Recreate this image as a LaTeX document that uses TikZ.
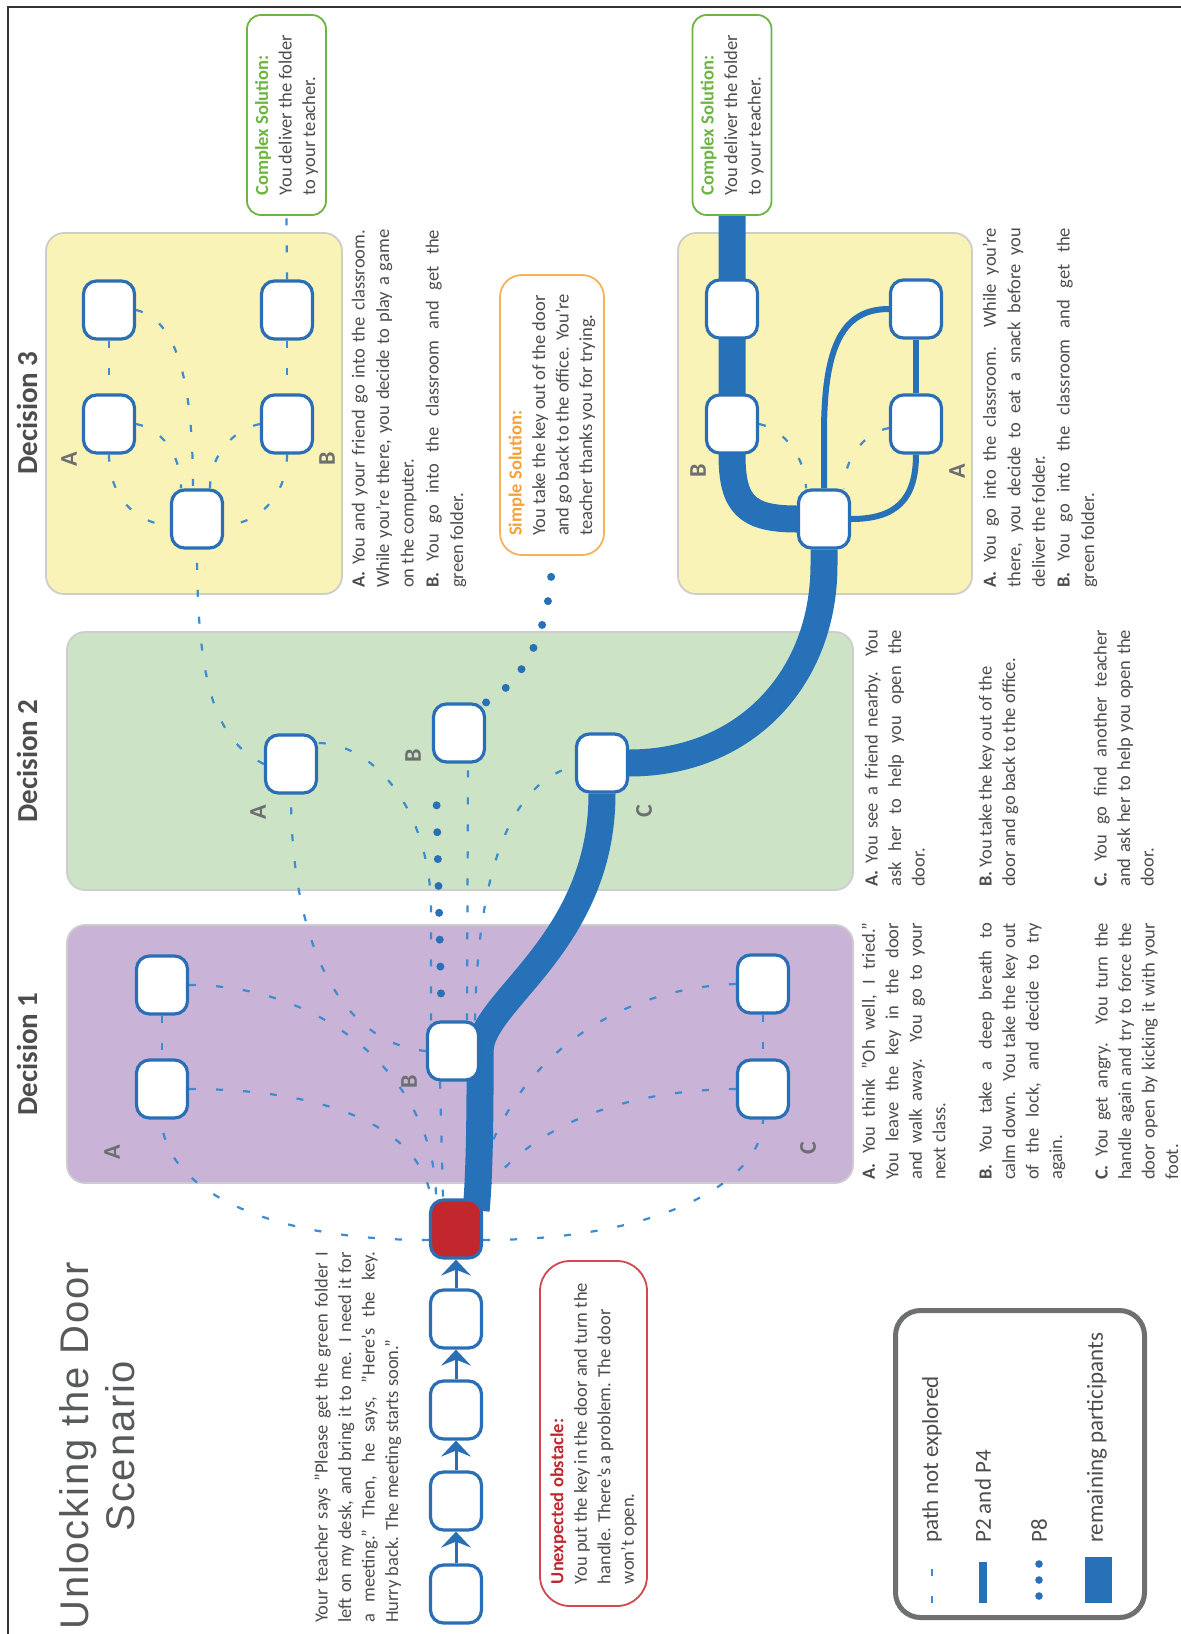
\documentclass[tikz,border=0pt]{standalone}
\usepackage{fontspec}
\setmainfont{Carlito}
\newfontfamily\titlefont{Liberation Sans}[LetterSpace=4.5]
\usetikzlibrary{calc,arrows.meta}
\definecolor{nodeblue}{HTML}{2A6EB5}
\definecolor{bandblue}{HTML}{2771B8}
\definecolor{dashblue}{HTML}{3D8BD0}
\definecolor{purp}{HTML}{C9B3D7}
\definecolor{grn}{HTML}{CCE4C5}
\definecolor{yel}{HTML}{FAF3B8}
\definecolor{panelborder}{HTML}{CDCDCD}
\definecolor{redfill}{HTML}{C1272D}
\definecolor{textgray}{HTML}{4D4D4D}
\definecolor{labelgray}{HTML}{6D6E71}
\definecolor{cgreen}{HTML}{6DB443}
\definecolor{sorange}{HTML}{F6B25A}
\definecolor{sorangetxt}{HTML}{F3A13A}
\definecolor{obred}{HTML}{D4474F}
\definecolor{obredtxt}{HTML}{C1272D}
\definecolor{legendgray}{HTML}{6D6F71}
\definecolor{titlegray}{HTML}{58595B}
\newcommand\JL[2]{\makebox[#1pt][s]{#2}}
\pgfdeclarelayer{panels}
\pgfdeclarelayer{lines}
\pgfsetlayers{panels,lines,main}
\begin{document}
\begin{tikzpicture}[x=1pt,y=-1pt,
  choice/.style={draw=nodeblue, line width=3.2pt, fill=white, rounded corners=13pt, minimum width=51pt, minimum height=58pt, inner sep=0pt},
  txt/.style={rotate=90, anchor=north west, align=left, inner sep=0pt, text=textgray, font=\fontsize{18.5}{23.5}\selectfont},
  txtw/.style={txt, font=\fontsize{18.5}{24.5}\selectfont},
  lbl/.style={rotate=90, text=labelgray, font=\fontsize{24}{24}\selectfont\bfseries, inner sep=0pt},
  dec/.style={rotate=90, text=textgray, font=\fontsize{29}{29}\selectfont\bfseries, inner sep=0pt},
  panel/.style={draw=panelborder, line width=1.8pt, rounded corners=18pt},
  dsh/.style={draw=dashblue, line width=2.2pt, dash pattern=on 7pt off 20pt},
  band/.style={draw=bandblue, line width=27pt, line join=round},
  ptf/.style={draw=bandblue, line width=6pt},
  dots/.style={draw=bandblue, line width=8pt, line cap=round},
  chainarrow/.style={draw=nodeblue, line width=3pt, -{Stealth[length=16pt,width=30pt,inset=6pt]}},
  sol/.style={rotate=90, line width=1.8pt, fill=white, align=left, inner sep=0pt, text=textgray, font=\fontsize{18.5}{23.5}\selectfont},
  legtxt/.style={rotate=90, anchor=west, inner sep=0pt, text=textgray, font=\fontsize{23}{23}\selectfont},
]
\useasboundingbox (0,0) rectangle (1181,1634);

% frame
\draw[line width=2pt, draw=black!80] (8,1634) -- (8,6.5) -- (1181,6.5);

% panels
\begin{pgfonlayer}{panels}
\draw[panel, fill=purp] (67,925) rectangle (853,1183);
\draw[panel, fill=grn] (67,632) rectangle (853,890);
\draw[panel, fill=yel] (46,233) rectangle (342,594);
\draw[panel, fill=yel] (678,233) rectangle (972,594);
\end{pgfonlayer}

% title and decisions
\node[rotate=90, align=center, text=titlegray, font=\titlefont\fontsize{40}{46}\selectfont, inner sep=0pt] (title) at (97,1446) {Unlocking the Door\\Scenario};
\node[dec] (dl1) at (27,1054) {Decision 1};
\node[dec] (dl2) at (27,761) {Decision 2};
\node[dec] (dl3) at (27,413) {Decision 3};

% chain
\node[choice] (c1) at (456,1594) {};
\node[choice] (c2) at (456,1501) {};
\node[choice] (c3) at (456,1410) {};
\node[choice] (c4) at (456,1319) {};
\node[choice, fill=redfill] (red) at (456,1229) {};
\draw[chainarrow] (c1) -- (c2);
\draw[chainarrow] (c2) -- (c3);
\draw[chainarrow] (c3) -- (c4);
\draw[chainarrow] (c4) -- (red);

% decision 1
\node[choice] (d1a1) at (162,985) {};
\node[choice] (d1a2) at (162,1089) {};
\node[choice] (d1b) at (453,1051) {};
\node[choice] (d1c1) at (763,984) {};
\node[choice] (d1c2) at (763,1089) {};
\node[lbl] (l1a) at (112,1152) {A};
\node[lbl] (l1b) at (409,1082) {B};
\node[lbl] (l1c) at (808,1148) {C};

% decision 2
\node[choice] (d2a) at (291,764) {};
\node[choice] (d2b) at (459,733) {};
\node[choice] (d2c) at (602,763) {};
\node[lbl] (l2a) at (258,812) {A};
\node[lbl] (l2b) at (413,756) {B};
\node[lbl] (l2c) at (644,811) {C};

% decision 3 top
\node[choice] (t3a1) at (109,310) {};
\node[choice] (t3a2) at (109,424) {};
\node[choice] (t3b1) at (287,310) {};
\node[choice] (t3b2) at (287,424) {};
\node[choice] (t3c) at (197,519) {};
\node[lbl] (l3a) at (69,459) {A};
\node[lbl] (l3b) at (327,459) {B};

% decision 3 bottom
\node[choice] (b3b1) at (732,309) {};
\node[choice] (b3b2) at (732,424) {};
\node[choice] (b3a1) at (916,309) {};
\node[choice] (b3a2) at (916,424) {};
\node[choice] (b3c) at (824,519) {};
\node[lbl] (l4b) at (698,471) {B};
\node[lbl] (l4a) at (957,471) {A};

% solution boxes
\node[sol, draw=cgreen, rounded corners=14pt, minimum width=200pt, minimum height=79pt] (cx1) at (286.5,115)
  {{\color{cgreen}\bfseries Complex Solution:}\\You deliver the folder\\to your teacher.};
\node[sol, draw=cgreen, rounded corners=14pt, minimum width=200pt, minimum height=79pt] (cx2) at (732,115)
  {{\color{cgreen}\bfseries Complex Solution:}\\You deliver the folder\\to your teacher.};
\node[sol, draw=sorange, rounded corners=22pt, minimum width=280pt, minimum height=104pt] (simp) at (552,415)
  {{\color{sorangetxt}\bfseries Simple Solution:}\\You take the key out of the door\\and go back to the office. You're\\teacher thanks you for trying.};
\node[sol, draw=obred, rounded corners=30pt, minimum width=345pt, minimum height=107pt] (obst) at (593.5,1433.5)
  {{\color{obredtxt}\bfseries Unexpected obstacle:}\\You put the key in the door and turn the\\handle. There's a problem. The door\\won't open.};

% texts
\node[txt] (teacher) at (314.5,1623) {\JL{371}{Your teacher says "Please get the green folder I}\\\JL{371}{left on my desk, and bring it to me. I need it for}\\\JL{371}{a meeting." Then, he says, "Here's the key.}\\Hurry back. The meeting starts soon."};

\node[txt] (t1a) at (861.5,1180) {\JL{257}{\textbf{A.} You think "Oh well, I tried."}\\\JL{257}{You leave the key in the door}\\\JL{257}{and walk away. You go to your}\\next class.};
\node[txt] (t1b) at (978.5,1180) {\JL{257}{\textbf{B.} You take a deep breath to}\\\JL{257}{calm down. You take the key out}\\\JL{257}{of the lock, and decide to try}\\again.};
\node[txt] (t1c) at (1094.5,1180) {\JL{257}{\textbf{C.} You get angry. You turn the}\\\JL{257}{handle again and try to force the}\\\JL{257}{door open by kicking it with your}\\foot.};

\node[txt] (t2a) at (864.5,887) {\JL{257}{\textbf{A.} You see a friend nearby. You}\\\JL{257}{ask her to help you open the}\\door.};
\node[txt] (t2b) at (978.5,887) {\textbf{B.} You take the key out of the\\door and go back to the office.};
\node[txt] (t2c) at (1093.5,887) {\JL{257}{\textbf{C.} You go find another teacher}\\\JL{257}{and ask her to help you open the}\\door.};

\node[txtw] (t3ta) at (351.5,588) {\JL{358}{\textbf{A.} You and your friend go into the classroom.}\\\JL{358}{While you're there, you decide to play a game}\\on the computer.};
\node[txtw] (t3tb) at (425.5,588) {\JL{358}{\textbf{B.} You go into the classroom and get the}\\green folder.};
\node[txtw] (t3ba) at (982.5,588) {\JL{360}{\textbf{A.} You go into the classroom. While you're}\\\JL{360}{there, you decide to eat a snack before you}\\deliver the folder.};
\node[txtw] (t3bb) at (1056.5,588) {\JL{360}{\textbf{B.} You go into the classroom and get the}\\green folder.};

% legend
\node[draw=legendgray, line width=5pt, rounded corners=25pt, minimum width=249pt, minimum height=307pt, inner sep=0pt] (legend) at (1020,1464) {};
\coordinate (lg1a) at (932,1603);
\coordinate (lg1b) at (932,1568);
\draw[dsh] (lg1a) -- (lg1b);
\fill[bandblue] (979,1562) rectangle (987,1603);
\fill[bandblue] (1039,1564) circle (3.8pt);
\fill[bandblue] (1039,1580) circle (3.8pt);
\fill[bandblue] (1039,1596) circle (3.8pt);
\fill[bandblue] (1085,1557) rectangle (1112,1603);
\node[legtxt] (lt1) at (932,1543) {path not explored};
\node[legtxt] (lt2) at (983,1543) {P2 and P4};
\node[legtxt] (lt3) at (1039,1543) {P8};
\node[legtxt] (lt4) at (1097,1543) {remaining participants};

% connectors
\begin{pgfonlayer}{lines}
% dashed: unexplored paths
\draw[dsh] ([yshift=-11pt]red.west) .. controls +(-180,0) and +(0,60) .. (d1a2.south);
\draw[dsh] ([yshift=-11pt]red.east) .. controls +(180,0) and +(0,60) .. (d1c2.south);
\draw[dsh] (d1a1.east) .. controls +(140,0) and +(0,-115) .. ([xshift=-20pt]red.north);
\draw[dsh] (d1a2.east) .. controls +(140,0) and +(-10,-70) .. ([xshift=-25pt]red.north);
\draw[dsh] ([xshift=-13pt]d1b.south) -- ([xshift=-13pt]red.north);
\draw[dsh] (d1c1.west) .. controls +(-137,5) and +(20,-120) .. ([xshift=20pt]red.north);
\draw[dsh] (d1c2.west) .. controls +(-117,1) and +(45,-70) .. ([xshift=24pt]red.north);
\draw[dsh] (d1a1.south) -- (d1a2.north);
\draw[dsh] (d1c1.south) -- (d1c2.north);
\draw[dsh] (d1b.west) .. controls +(-85,-8) and +(0,150) .. (d2a.south);
\draw[dsh] ([xshift=-22pt]d1b.north) -- ++(0,-120) .. controls +(-5,-100) and +(50,0) .. ([yshift=21pt]d2a.east);
\draw[dsh] ([xshift=14pt]d1b.north) -- ([xshift=9pt]d2b.south);
\draw[dsh] ([xshift=22pt]d1b.north) .. controls +(3,-170) and +(-56,14) .. ([yshift=-3pt]d2c.west);
\draw[dsh] (d2a.west) .. controls +(-50,-24) and +(0,130) .. (t3c.south);
\draw[dsh] (t3a1.south) -- (t3a2.north);
\draw[dsh] (t3b1.south) -- (t3b2.north);
\draw[dsh] (t3b1.north) -- (cx1.west);
\draw[dsh] (t3a1.east) .. controls +(40,10) and +(0,-110) .. ([xshift=-4pt]t3c.north);
\draw[dsh] (t3a2.east) .. controls +(25,5) and +(0,-35) .. ([xshift=-16pt]t3c.north);
\draw[dsh] (t3b2.west) .. controls +(-25,5) and +(0,-35) .. ([xshift=13pt]t3c.north);
\draw[dsh] (t3a2.south) .. controls +(0,45) and +(-30,0) .. ([yshift=-6pt]t3c.west);
\draw[dsh] (t3b2.south) .. controls +(0,45) and +(30,0) .. ([yshift=-6pt]t3c.east);
\draw[dsh] (b3b2.east) .. controls +(25,5) and +(0,-30) .. ([xshift=-18pt]b3c.north);
\draw[dsh] ([yshift=-4pt]b3a2.west) .. controls +(-25,5) and +(0,-30) .. ([xshift=20pt]b3c.north);
% remaining participants
\draw[band] ($(red.north -| d1b.east)+(-4,12)$) .. controls +(4,-40) and +(0,40) .. (d1b.east) .. controls +(0,-50) and +(0,150) .. (d2c.south);
\draw[band] (d2c.east) .. controls +(115,0) and +(0,115) .. ($(b3c.south)+(0,15)$) -- (b3c.south);
\draw[band] (b3c.west) .. controls +(-50,0) and +(0,50) .. (b3b2.south) -- (cx2.west);
% P2 and P4
\draw[ptf] (b3c.east) .. controls +(45,0) and +(0,45) .. (b3a2.south);
\draw[ptf] (b3a2.north) -- (b3a1.south);
\draw[ptf] (b3c.north) -- ++(0,-55) .. controls +(0,-90) and +(-45,0) .. (b3a1.west);
% P8
\draw[dots, dash pattern=on 0pt off 26.875pt] ([xshift=-12pt,yshift=27pt]d1b.north) -- ([xshift=-23pt,yshift=-15pt]d2b.south);
\draw[dots, dash pattern=on 0pt off 24.5pt] (d2b.north east) .. controls +(45,-25) and +(0,60) .. (simp.west);
\end{pgfonlayer}
\end{tikzpicture}
\end{document}
